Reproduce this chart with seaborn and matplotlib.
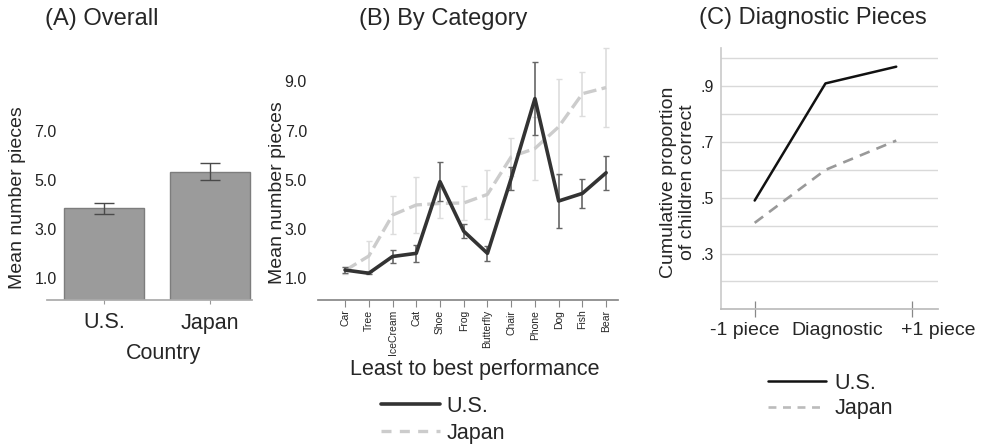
import numpy as np
import pandas as pd
import seaborn as sns
import matplotlib
matplotlib.use("Agg")
import matplotlib.pyplot as plt
from matplotlib.lines import Line2D

# -------------------- DATA --------------------
countries = ["U.S.", "Japan"]
overall_means = [3.83, 5.33]
overall_err = [0.22, 0.35]

categories = ["Car", "Tree", "IceCream", "Cat", "Shoe", "Frog",
              "Butterfly", "Chair", "Phone", "Dog", "Fish", "Bear"]
us_means = [1.32, 1.19, 1.87, 2.0, 4.92, 2.9, 2.0, 5.05, 8.3, 4.13, 4.44, 5.28]
us_err = [0.13, 0.05, 0.27, 0.34, 0.8, 0.28, 0.3, 0.47, 1.5, 1.1, 0.6, 0.7]
jp_means = [1.3, 1.89, 3.56, 3.97, 4.03, 4.05, 4.4, 5.93, 6.27, 7.15, 8.5, 8.75]
jp_err = [0.15, 0.6, 0.78, 1.15, 0.6, 0.68, 1.0, 0.78, 1.3, 1.95, 0.9, 1.6]

steps = ["-1 piece", "Diagnostic", "+1 piece"]
us_prop = [0.49, 0.91, 0.97]
jp_prop = [0.41, 0.60, 0.705]

mean_ticks = [1.0, 3.0, 5.0, 7.0, 9.0]
prop_ticks = [0.3, 0.5, 0.7, 0.9]

sns.set_theme(style="white")
plt.rcParams["font.family"] = ["Liberation Sans", "DejaVu Sans"]

fig = plt.figure(figsize=(9.86, 4.48), dpi=100)
W, H = 986, 448


def px_axes(x0, y0, x1, y1):
    # axes from pixel box (top-left origin)
    return fig.add_axes([x0 / W, 1 - y1 / H, (x1 - x0) / W, (y1 - y0) / H])


# -------------------- (A) OVERALL --------------------
axA = px_axes(47, 47, 252, 300)
dfA = pd.DataFrame({"country": countries, "mean": overall_means})
sns.barplot(data=dfA, x="country", y="mean", color="#9b9b9b", width=0.755,
            edgecolor="#7d7d7d", linewidth=1, saturation=1, ax=axA)
axA.errorbar(np.arange(len(countries)), overall_means, yerr=overall_err,
             fmt="none", ecolor="#4a4a4a", elinewidth=1, capsize=7, capthick=1)
axA.set_ylim(0.1, 10.4)
axA.set_xlim(-0.54, 1.4)
axA.set_yticks(mean_ticks[:4], [f"{t:.1f}" for t in mean_ticks[:4]])
axA.tick_params(axis="y", length=0, pad=-7, labelsize=11.5, colors="#222222")
axA.tick_params(axis="x", length=3, width=0.8, color="#999999", direction="out",
                bottom=True, labelsize=15.5, pad=6)
for s in ["top", "right", "left"]:
    axA.spines[s].set_visible(False)
axA.spines["bottom"].set_color("#aaaaaa")
axA.set_ylabel("Mean number pieces", fontsize=14)
axA.yaxis.set_label_coords(-0.1, 0.405)
axA.set_xlabel("Country", fontsize=15.5)
axA.xaxis.set_label_coords(0.566, -0.168)
fig.text(45 / W, 1 - 19 / H, "(A) Overall", fontsize=17, ha="left", va="center")

# -------------------- (B) BY CATEGORY --------------------
axB = px_axes(318, 47, 618, 300)
pos = np.arange(len(categories))
dfB = pd.DataFrame({"pos": np.concatenate([pos, pos]),
                    "mean": us_means + jp_means,
                    "country": ["U.S."] * len(pos) + ["Japan"] * len(pos)})

axB.errorbar(pos, jp_means, yerr=jp_err, fmt="none", ecolor="#dddddd",
             elinewidth=1.2, capsize=2, capthick=1)
sns.lineplot(data=dfB[dfB.country == "Japan"], x="pos", y="mean", color="#cccccc",
             linewidth=2.4, linestyle=(0, (4, 1.6)), ax=axB)
axB.errorbar(pos, us_means, yerr=us_err, fmt="none", ecolor="#666666",
             elinewidth=1.2, capsize=2, capthick=1)
sns.lineplot(data=dfB[dfB.country == "U.S."], x="pos", y="mean", color="#333333",
             linewidth=2.6, ax=axB)
axB.set_ylim(0.1, 10.4)
axB.set_xlim(-1.14, 11.5)
axB.set_yticks(mean_ticks, [f"{t:.1f}" for t in mean_ticks])
axB.set_xticks(pos, categories, rotation=90)
axB.tick_params(axis="y", length=0, pad=8, labelsize=11.5, colors="#222222")
axB.tick_params(axis="x", length=5, width=0.8, color="#888888", direction="out",
                bottom=True, labelsize=7.5, pad=2)
for s in ["top", "right", "left"]:
    axB.spines[s].set_visible(False)
axB.spines["bottom"].set_color("#888888")
axB.set_ylabel("Mean number pieces", fontsize=14)
axB.yaxis.set_label_coords(-0.105, 0.425)
axB.set_xlabel("Least to best performance", fontsize=15.5)
axB.xaxis.set_label_coords(0.523, -0.235)
fig.text(443 / W, 1 - 19 / H, "(B) By Category", fontsize=17, ha="center", va="center")

handlesB = [Line2D([], [], color="#333333", linewidth=2.6),
            Line2D([], [], color="#cccccc", linewidth=2.4, linestyle=(0, (3, 2.5)))]
axB.legend(handlesB, countries, loc="upper left", frameon=False, fontsize=15.5,
           bbox_to_anchor=(381 / W, 1 - 396 / H), bbox_transform=fig.transFigure,
           handlelength=2.75, handletextpad=0.3, labelspacing=0.26, borderpad=0,
           borderaxespad=0)

# -------------------- (C) DIAGNOSTIC PIECES --------------------
axC = px_axes(720.7, 48, 938, 309.3)
spos = np.arange(len(steps))
dfC = pd.DataFrame({"pos": np.concatenate([spos, spos]),
                    "prop": us_prop + jp_prop,
                    "country": ["U.S."] * len(spos) + ["Japan"] * len(spos)})
axC.set_ylim(0.1, 1.037)
axC.set_xlim(-0.48, 2.48)
for g in np.arange(0.2, 1.01, 0.1):
    axC.axhline(g, color="#d9d9d9", linewidth=1, zorder=0)
sns.lineplot(data=dfC[dfC.country == "Japan"], x="pos", y="prop", color="#999999",
             linewidth=1.9, linestyle=(0, (4, 2.8)), ax=axC)
sns.lineplot(data=dfC[dfC.country == "U.S."], x="pos", y="prop", color="#111111",
             linewidth=1.8, ax=axC)
axC.set_yticks(prop_ticks, [f"{t:.1f}".lstrip("0") for t in prop_ticks])
axC.tick_params(axis="y", length=0, pad=5, labelsize=11.5, colors="#222222")
axC.set_xticks([-0.14, 1.17, 2.59], steps)
axC.set_xticks([0.0, 1.17, 2.22], minor=True)
axC.tick_params(axis="x", which="major", length=0, labelsize=14, pad=9)
axC.tick_params(axis="x", which="minor", length=12, width=0.9, color="#888888",
                direction="inout", bottom=True)
for s in ["top", "right"]:
    axC.spines[s].set_visible(False)
axC.spines["left"].set_color("#cccccc")
axC.spines["bottom"].set_color("#bbbbbb")
axC.set_xlabel("")
axC.set_ylabel("Cumulative proportion\nof children correct", fontsize=14,
               linespacing=1.15)
axC.yaxis.set_label_coords(-0.115, 0.485)
fig.text(813 / W, 1 - 18 / H, "(C) Diagnostic Pieces", fontsize=17, ha="center",
         va="center")

handlesC = [Line2D([], [], color="#111111", linewidth=1.8),
            Line2D([], [], color="#bbbbbb", linewidth=1.9, linestyle=(0, (3, 2.5)))]
axC.legend(handlesC, countries, loc="upper left", frameon=False, fontsize=15.5,
           bbox_to_anchor=(768 / W, 1 - 373 / H), bbox_transform=fig.transFigure,
           handlelength=2.7, handletextpad=0.4, labelspacing=0.2, borderpad=0,
           borderaxespad=0)

fig.savefig("out.png", dpi=100)
plt.close(fig)
